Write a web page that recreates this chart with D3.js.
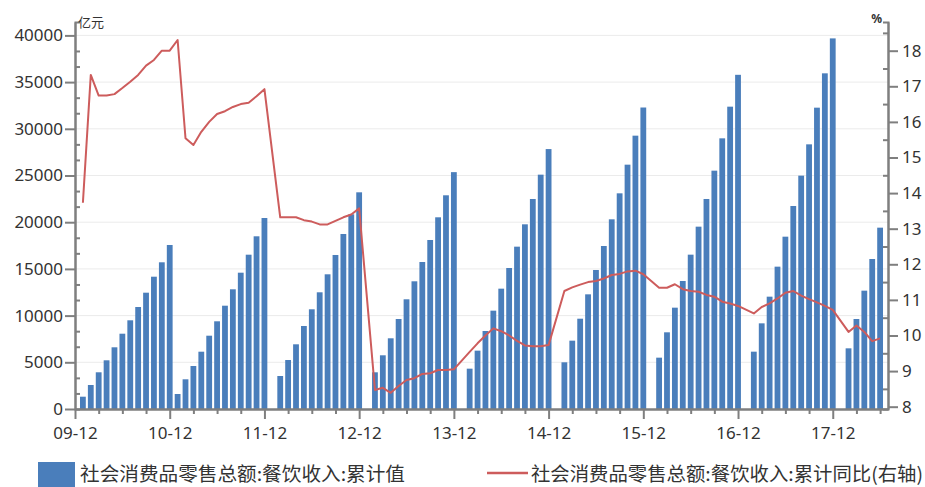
<!DOCTYPE html>
<html>
<head>
<meta charset="utf-8">
<script src="https://cdn.jsdelivr.net/npm/d3@7/dist/d3.min.js"></script>
<style>
  body { margin: 0; background: #fff; }
  svg { display: block; font-family: "Noto Sans", "Noto Sans CJK SC", sans-serif; }
</style>
</head>
<body>
<script>
// months as "YYYY-MM"; 2010 and 2011 include January, later years start at Feb (Jan-Feb combined)
const months = [
  '2010-01','2010-02','2010-03','2010-04','2010-05','2010-06','2010-07','2010-08','2010-09','2010-10','2010-11','2010-12',
  '2011-01','2011-02','2011-03','2011-04','2011-05','2011-06','2011-07','2011-08','2011-09','2011-10','2011-11','2011-12',
  '2012-02','2012-03','2012-04','2012-05','2012-06','2012-07','2012-08','2012-09','2012-10','2012-11','2012-12',
  '2013-02','2013-03','2013-04','2013-05','2013-06','2013-07','2013-08','2013-09','2013-10','2013-11','2013-12',
  '2014-02','2014-03','2014-04','2014-05','2014-06','2014-07','2014-08','2014-09','2014-10','2014-11','2014-12',
  '2015-02','2015-03','2015-04','2015-05','2015-06','2015-07','2015-08','2015-09','2015-10','2015-11','2015-12',
  '2016-02','2016-03','2016-04','2016-05','2016-06','2016-07','2016-08','2016-09','2016-10','2016-11','2016-12',
  '2017-02','2017-03','2017-04','2017-05','2017-06','2017-07','2017-08','2017-09','2017-10','2017-11','2017-12',
  '2018-02','2018-03','2018-04','2018-05','2018-06'
];

// 社会消费品零售总额:餐饮收入:累计值 (亿元)
const cumValue = [
  1317, 2570, 3930, 5214, 6606, 8062, 9497, 10921, 12453, 14165, 15707, 17560,
  1606, 3180, 4604, 6135, 7848, 9390, 11060, 12816, 14594, 16521, 18491, 20450,
  3533, 5246, 6927, 8887, 10675, 12495, 14422, 16489, 18737, 20847, 23200,
  3929, 5750, 7570, 9636, 11746, 13673, 15739, 18095, 20525, 22881, 25360,
  4318, 6246, 8351, 10528, 12884, 15097, 17381, 19774, 22485, 25090, 27830,
  5000, 7317, 9668, 12277, 14883, 17452, 20309, 23092, 26160, 29265, 32280,
  5496, 8211, 10849, 13705, 16524, 19522, 22485, 25518, 28980, 32370, 35780,
  6138, 9172, 12027, 15240, 18450, 21735, 24984, 28337, 32263, 35940, 39680,
  6496, 9636, 12670, 16060, 19415
];

// 累计同比 (%), right axis
const cumYoY = [
  13.73, 17.32, 16.74, 16.74, 16.78, 16.95, 17.13, 17.32, 17.58, 17.74, 18.0, 18.0,
  18.3, 15.54, 15.35, 15.72, 16.0, 16.22, 16.3, 16.42, 16.5, 16.54, 16.72, 16.92,
  13.32, 13.32, 13.32, 13.24, 13.2, 13.12, 13.12, 13.22, 13.32, 13.4, 13.57,
  8.47, 8.53, 8.39, 8.58, 8.75, 8.8, 8.92, 8.94, 9.03, 9.03, 9.05,
  9.54, 9.78, 10.0, 10.2, 10.12, 10.0, 9.85, 9.72, 9.7, 9.7, 9.73,
  11.25, 11.35, 11.43, 11.5, 11.53, 11.6, 11.7, 11.73, 11.8, 11.82, 11.72,
  11.34, 11.34, 11.44, 11.3, 11.25, 11.23, 11.14, 11.09, 10.95, 10.9, 10.83,
  10.62, 10.8, 10.9, 11.04, 11.2, 11.25, 11.12, 11.02, 10.93, 10.83, 10.72,
  10.1, 10.28, 10.1, 9.84, 9.92
];

const xTickLabels = ['09-12','10-12','11-12','12-12','13-12','14-12','15-12','16-12','17-12'];
const leftTicks = [0, 5000, 10000, 15000, 20000, 25000, 30000, 35000, 40000];
const rightTicks = [8, 9, 10, 11, 12, 13, 14, 15, 16, 17, 18];
const seriesNames = ['社会消费品零售总额:餐饮收入:累计值', '社会消费品零售总额:餐饮收入:累计同比(右轴)'];

const width = 925, height = 487;
const plotLeft = 75, plotRight = 888, plotTop = 22, plotBottom = 409;
const barColor = '#4a7ebb';
const lineColor = '#cd5c5c';
const axisColor = '#7f7f7f';
const textColor = '#333';

// month index counted from 2009-12
const monthIndex = m => {
  const [yy, mm] = m.split('-').map(Number);
  return (yy - 2009) * 12 + mm - 12;
};

const svg = d3.select('body').append('svg')
  .attr('width', width)
  .attr('height', height);

const x = d3.scaleLinear().domain([0, 103]).range([plotLeft, plotRight]);
const y = d3.scaleLinear().domain([0, 41435]).range([plotBottom, plotTop]);
const y2 = d3.scaleLinear().domain([7.935, 18.806]).range([plotBottom, plotTop]);

// gridlines
svg.append('g')
  .selectAll('line')
  .data(leftTicks.filter(d => d > 0))
  .enter()
  .append('line')
  .attr('x1', plotLeft)
  .attr('x2', plotRight)
  .attr('y1', d => y(d))
  .attr('y2', d => y(d))
  .attr('stroke', '#ebebeb')
  .attr('stroke-width', 1);

// bars
const barWidth = 5.8;
svg.append('g')
  .selectAll('rect')
  .data(months.map((m, i) => ({ m, v: cumValue[i] })))
  .enter()
  .append('rect')
  .attr('x', d => x(monthIndex(d.m)) - barWidth / 2)
  .attr('y', d => y(d.v))
  .attr('width', barWidth)
  .attr('height', d => y(0) - y(d.v))
  .attr('fill', barColor);

// line
const line = d3.line()
  .x(d => x(monthIndex(d.m)))
  .y(d => y2(d.v));

svg.append('path')
  .datum(months.map((m, i) => ({ m, v: cumYoY[i] })))
  .attr('d', line)
  .attr('fill', 'none')
  .attr('stroke', lineColor)
  .attr('stroke-width', 2)
  .attr('stroke-linejoin', 'round');

function styleAxis(g, fontSize) {
  g.select('.domain').attr('stroke', axisColor).attr('stroke-width', 2);
  g.selectAll('.tick line').attr('stroke', axisColor).attr('stroke-width', 2);
  g.selectAll('.tick text').attr('fill', textColor).style('font-size', fontSize + 'px');
  g.attr('font-family', null);
}

// left axis
const minorLeft = d3.range(0, 41435, 5000 / 3).filter((d, i) => i % 3 !== 0);
svg.append('g')
  .attr('transform', `translate(${plotLeft},0)`)
  .call(d3.axisLeft(y).tickValues(minorLeft).tickSize(-5).tickFormat(''))
  .call(g => styleAxis(g, 17));
svg.append('g')
  .attr('transform', `translate(${plotLeft},0)`)
  .call(d3.axisLeft(y).tickValues(leftTicks).tickSize(10).tickSizeOuter(0).tickPadding(2).tickFormat(d3.format('d')))
  .call(g => styleAxis(g, 17));

// right axis
const minorRight = rightTicks.map(d => d + 0.5);
svg.append('g')
  .attr('transform', `translate(${plotRight},0)`)
  .call(d3.axisRight(y2).tickValues(minorRight).tickSize(-5).tickFormat(''))
  .call(g => styleAxis(g, 17));
svg.append('g')
  .attr('transform', `translate(${plotRight},0)`)
  .call(d3.axisRight(y2).tickValues(rightTicks).tickSize(10).tickSizeOuter(0).tickPadding(4))
  .call(g => styleAxis(g, 17));

// bottom axis
const majorX = xTickLabels.map((d, i) => i * 12);
const minorX = d3.range(3, 103, 3).filter(d => d % 12 !== 0);
svg.append('g')
  .attr('transform', `translate(0,${plotBottom})`)
  .call(d3.axisBottom(x).tickValues(minorX).tickSize(5).tickSizeOuter(0).tickFormat(''))
  .call(g => styleAxis(g, 17));
svg.append('g')
  .attr('transform', `translate(0,${plotBottom})`)
  .call(d3.axisBottom(x).tickValues(majorX).tickSize(10).tickSizeOuter(0).tickPadding(8)
    .tickFormat((d, i) => xTickLabels[i]))
  .call(g => styleAxis(g, 17));

// unit labels
svg.append('text')
  .attr('x', 78)
  .attr('y', 27)
  .attr('fill', textColor)
  .style('font-family', '"Noto Sans CJK SC", sans-serif')
  .style('font-size', '13px')
  .text('亿元');
svg.append('text')
  .attr('x', 882)
  .attr('y', 23)
  .attr('text-anchor', 'end')
  .attr('fill', textColor)
  .style('font-size', '12px')
  .style('font-weight', 'bold')
  .text('%');

// legend
const legend = svg.append('g');
legend.append('rect')
  .attr('x', 38)
  .attr('y', 462)
  .attr('width', 37)
  .attr('height', 25)
  .attr('fill', barColor);
legend.append('text')
  .attr('x', 80)
  .attr('y', 481)
  .attr('fill', textColor)
  .attr('textLength', 325)
  .attr('lengthAdjust', 'spacingAndGlyphs')
  .style('font-family', '"Noto Sans CJK SC", sans-serif')
  .style('font-size', '19px')
  .text(seriesNames[0]);
legend.append('line')
  .attr('x1', 487)
  .attr('x2', 528)
  .attr('y1', 473)
  .attr('y2', 473)
  .attr('stroke', lineColor)
  .attr('stroke-width', 2.5);
legend.append('text')
  .attr('x', 531)
  .attr('y', 481)
  .attr('fill', textColor)
  .attr('textLength', 392)
  .attr('lengthAdjust', 'spacingAndGlyphs')
  .style('font-family', '"Noto Sans CJK SC", sans-serif')
  .style('font-size', '19px')
  .text(seriesNames[1]);
</script>
</body>
</html>
